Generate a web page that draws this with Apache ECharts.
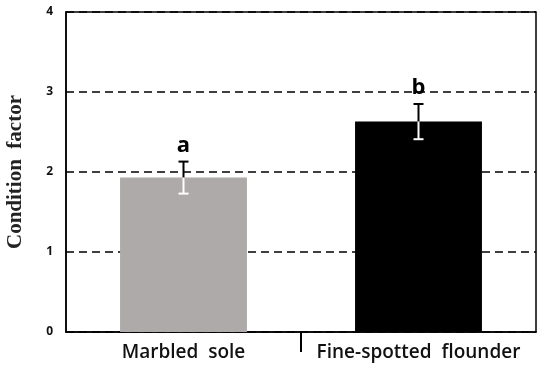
<!DOCTYPE html>
<html><head><meta charset="utf-8">
<script src="https://cdn.jsdelivr.net/npm/echarts@6/dist/echarts.min.js"></script>
<style>html,body{margin:0;padding:0;background:#fff}#c{width:539px;height:373px}</style>
</head><body><div id="c"></div>
<script>
var categories = ['Marbled  sole', 'Fine-spotted  flounder'];
var means = [1.93, 2.63];
var errors = [0.20, 0.22];
var letters = ['a', 'b'];
var barColors = ['#aeaaaa', '#000000'];
var yTicks = [0, 1, 2, 3, 4];

var chart = echarts.init(document.getElementById('c'));
chart.setOption({
  animation: false,
  grid: { left: 66, right: 3, top: 12, bottom: 41, show: true, borderColor: '#000', borderWidth: 1.5, containLabel: false, outerBoundsMode: 'none' },
  xAxis: {
    type: 'category', data: categories, boundaryGap: true,
    axisLine: { show: true, lineStyle: { color: '#000', width: 1.5 } },
    axisTick: { show: false },
    axisLabel: { interval: 0, hideOverlap: false, color: '#111', fontFamily: 'Open Sans', fontWeight: 600, fontSize: 19, margin: 11 }
  },
  yAxis: {
    type: 'value', min: 0, max: 4, interval: 1,
    name: 'Condition  factor', nameLocation: 'middle', nameGap: 40, nameRotate: 90,
    nameTextStyle: { fontFamily: 'Liberation Serif', fontWeight: 'bold', fontSize: 21, color: '#222' },
    axisLine: { show: true, lineStyle: { color: '#000', width: 1.5 } },
    axisTick: { show: false },
    axisLabel: { color: '#111', fontFamily: 'Open Sans', fontWeight: 'bold', fontSize: 12, margin: 13,
      formatter: function (v) { return yTicks.indexOf(v) >= 0 ? String(v) : ''; } },
    splitLine: { show: true, lineStyle: { color: '#000', width: 1.5, type: [8, 5] } }
  },
  series: [
    {
      type: 'bar', barWidth: '54%',
      data: means.map(function (m, i) { return { value: m, itemStyle: { color: barColors[i] } }; })
    },
    {
      type: 'custom', clip: false, z: 5,
      data: means.map(function (m, i) { return [i, m, errors[i]]; }),
      renderItem: function (params, api) {
        var x = api.value(0), m = api.value(1), e = api.value(2);
        var pm = api.coord([x, m]), pt = api.coord([x, m + e]), pb = api.coord([x, m - e]);
        var cx = pm[0], cw = 5;
        return {
          type: 'group', children: [
            { type: 'line', shape: { x1: cx, y1: pm[1], x2: cx, y2: pt[1] }, style: { stroke: '#000', lineWidth: 2 } },
            { type: 'line', shape: { x1: cx - cw, y1: pt[1], x2: cx + cw, y2: pt[1] }, style: { stroke: '#000', lineWidth: 2 } },
            { type: 'line', shape: { x1: cx, y1: pm[1], x2: cx, y2: pb[1] }, style: { stroke: '#fff', lineWidth: 2 } },
            { type: 'line', shape: { x1: cx - cw, y1: pb[1], x2: cx + cw, y2: pb[1] }, style: { stroke: '#fff', lineWidth: 2 } },
            { type: 'text', x: cx, y: pt[1] - 5, style: { text: letters[params.dataIndex], fill: '#000', fontFamily: 'Open Sans', fontWeight: 'bold', fontSize: 22, align: 'center', verticalAlign: 'bottom' } }
          ]
        };
      }
    },
    {
      type: 'custom', clip: false, z: 5,
      data: [[0, 1]],
      renderItem: function (params, api) {
        var a = api.coord([api.value(0), 0]), b = api.coord([api.value(1), 0]);
        var mx = (a[0] + b[0]) / 2;
        return { type: 'line', shape: { x1: mx, y1: a[1], x2: mx, y2: a[1] + 20 }, style: { stroke: '#000', lineWidth: 2 } };
      }
    }
  ]
});
</script></body></html>
